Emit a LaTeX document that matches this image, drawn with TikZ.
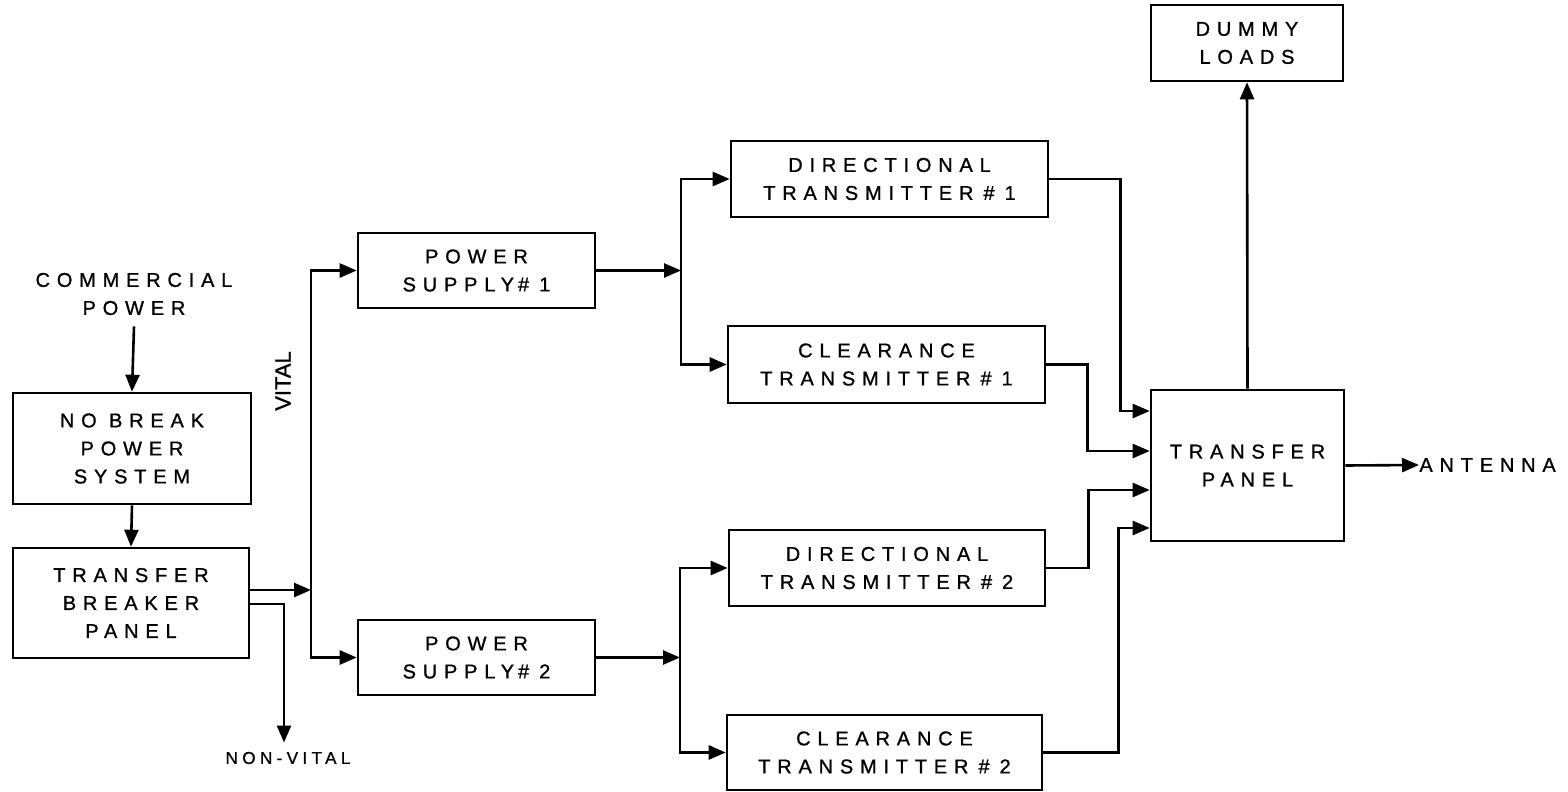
\documentclass[tikz,border=0pt]{standalone}
\usepackage{fontspec}
\setmainfont{Liberation Sans}
\newfontfamily\spaced{Liberation Sans}[LetterSpace=34,FakeBold=1]
\newfontfamily\spacedsm{Liberation Sans}[LetterSpace=25,FakeBold=0.8]
\newfontfamily\plainbold{Liberation Sans}[FakeBold=1]
\usetikzlibrary{arrows.meta,calc}
\newcommand{\hs}{\hspace{5pt}}
\begin{document}
\begin{tikzpicture}[x=0.5pt,y=-0.5pt,
  box/.style={draw,line width=1.3pt,inner sep=0pt,align=center,
    font=\spaced\fontsize{10}{14}\selectfont},
  lbl/.style={inner sep=0pt,align=center,font=\spaced\fontsize{10}{14}\selectfont},
  arr/.style={line width=1.3pt,-{Triangle[length=8.5pt,width=7pt]}},
  ln/.style={line width=1.3pt}]
\useasboundingbox (0,0) rectangle (1568,792);

% boxes
\node[box,minimum width=119pt,minimum height=55.5pt] (nb) at (132,448.5) {NO BREAK\\POWER\\SYSTEM};
\node[box,minimum width=118pt,minimum height=55pt] (tbp) at (131,603) {TRANSFER\\BREAKER\\PANEL};
\node[box,minimum width=118.5pt,minimum height=37.5pt] (ps1) at (476.5,270.5) {POWER\\SUPPLY\hspace{2pt}\#\hs 1};
\node[box,minimum width=118.5pt,minimum height=37.5pt] (ps2) at (476.5,657.5) {POWER\\SUPPLY\hspace{2pt}\#\hs 2};
\node[box,minimum width=158.5pt,minimum height=38pt] (dt1) at (889.5,179) {DIRECTIONAL\\TRANSMITTER\hs\#\hs 1};
\node[box,minimum width=158.5pt,minimum height=38.5pt] (ct1) at (886.5,364.5) {CLEARANCE\\TRANSMITTER\hs\#\hs 1};
\node[box,minimum width=158pt,minimum height=38pt] (dt2) at (887,568) {DIRECTIONAL\\TRANSMITTER\hs\#\hs 2};
\node[box,minimum width=157.5pt,minimum height=37.5pt] (ct2) at (884.5,752.5) {CLEARANCE\\TRANSMITTER\hs\#\hs 2};
\node[box,minimum width=96.5pt,minimum height=75.5pt] (tp) at (1247.5,465.5) {TRANSFER\\PANEL};
\node[box,minimum width=96pt,minimum height=38pt] (dl) at (1247,43) {DUMMY\\LOADS};

% labels
\node[lbl] (comm) at (134,294) {COMMERCIAL\\POWER};
\node[inner sep=0pt,rotate=90,font=\plainbold\fontsize{11}{13}\selectfont] (vital) at (283,381) {VITAL};
\node[inner sep=0pt,font=\spacedsm\fontsize{8.6}{10}\selectfont] (nvl) at (288,758) {NON-VITAL};
\node[lbl,anchor=west] (ant) at (1419,465) {ANTENNA};

% junctions
\coordinate (vj) at (311,590);
\coordinate (j1) at (681,270.5);
\coordinate (j2) at (680,657.5);
\coordinate (tin1) at (tp.west |- 0,411);
\coordinate (tin2) at (tp.west |- 0,451);
\coordinate (tin3) at (tp.west |- 0,490);
\coordinate (tin4) at (tp.west |- 0,528);

% connectors
\draw[arr] ($(comm.south)+(0,11)$) -- (nb.north);
\draw[arr] (nb.south) -- (tbp.north);
\draw[arr] (tbp.east |- vj) -- (vj);
\draw[arr] (vj) |- (ps1.west);
\draw[arr] (vj) |- (ps2.west);
\draw[arr] (tbp.east |- 0,604) -| ($(nvl.north)+(-4,-9)$);

\draw[arr] (ps1.east) -- (j1);
\draw[arr] (j1) |- (dt1.west);
\draw[arr] (j1) |- (ct1.west);
\draw[arr] (ps2.east) -- (j2);
\draw[arr] (j2) |- (dt2.west);
\draw[arr] (j2) |- (ct2.west);

\draw[arr] (dt1.east) -| ($(tin1)+(-29,0)$) -- (tin1);
\draw[arr] (ct1.east) -| ($(tin2)+(-62,0)$) -- (tin2);
\draw[arr] (dt2.east) -| ($(tin3)+(-61,0)$) -- (tin3);
\draw[arr] (ct2.east) -| ($(tin4)+(-31,0)$) -- (tin4);

\draw[arr] (tp.north) -- (dl.south);
\draw[arr] (tp.east) -- (ant.west);
\end{tikzpicture}
\end{document}
